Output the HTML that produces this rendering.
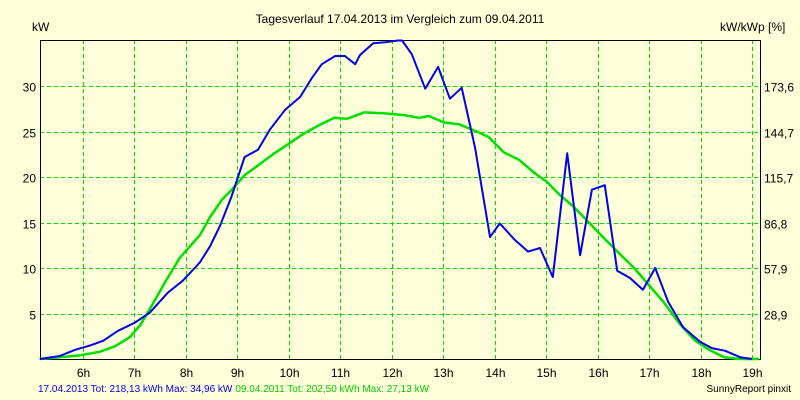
<!DOCTYPE html>
<html><head><meta charset="utf-8"><style>
body{margin:0;background:#ffffd9;}
svg{display:block;font-family:"Liberation Sans",sans-serif;}
</style></head><body>
<svg width="800" height="400">
<rect width="800" height="400" fill="#ffffd9"/>
<g id="grid"></g><g id="axes"></g><g id="series"></g>
<text x="400" y="23" text-anchor="middle" font-size="12">Tagesverlauf 17.04.2013 im Vergleich zum 09.04.2011</text>
<text x="32" y="31" font-size="12">kW</text>
<text x="720" y="31" font-size="12">kW/kWp [%]</text>
<text x="38" y="392" font-size="10"><tspan fill="#0000ff">17.04.2013 Tot: 218,13 kWh Max: 34,96 kW</tspan><tspan fill="#00cc00" dx="3">09.04.2011 Tot: 202,50 kWh Max: 27,13 kW</tspan></text>
<text x="791" y="392" text-anchor="end" font-size="10">SunnyReport pinxit</text>
</svg>
<script>
const hourTicks=[6,7,8,9,10,11,12,13,14,15,16,17,18,19];
const kwTicks=[5,10,15,20,25,30];
const pctLabels=["28,9","57,9","86,8","115,7","144,7","173,6"];
const blueT=[5.16,5.55,5.84,6.14,6.39,6.68,7.01,7.30,7.65,7.94,8.27,8.47,8.66,8.89,9.14,9.40,9.63,9.93,10.22,10.45,10.64,10.90,11.09,11.29,11.38,11.64,11.87,12.12,12.20,12.39,12.65,12.90,13.13,13.36,13.62,13.91,14.10,14.39,14.65,14.88,15.13,15.41,15.66,15.89,16.14,16.38,16.63,16.88,17.12,17.37,17.66,17.99,18.22,18.48,18.77,19.0];
const blueV=[0,0.33,1.0,1.5,2.0,3.1,4.0,5.1,7.3,8.6,10.6,12.4,14.6,17.9,22.2,23.0,25.2,27.4,28.8,30.9,32.4,33.3,33.3,32.4,33.4,34.7,34.8,35.0,35.0,33.5,29.7,32.1,28.6,29.8,23.2,13.4,14.9,13.1,11.8,12.2,9.0,22.6,11.4,18.6,19.1,9.7,8.9,7.6,10.0,6.3,3.5,1.9,1.2,0.9,0.2,0];
const greenT=[5.16,5.55,5.94,6.33,6.62,6.91,7.11,7.34,7.59,7.88,8.27,8.47,8.70,8.89,9.14,9.43,9.72,10.01,10.30,10.59,10.88,11.13,11.46,11.85,12.24,12.53,12.72,13.01,13.30,13.65,13.88,14.18,14.47,14.76,15.01,15.25,15.54,15.83,16.12,16.42,16.71,17.00,17.29,17.59,17.88,18.17,18.46,18.75,19.14];
const greenV=[0,0.2,0.4,0.8,1.4,2.4,3.7,5.9,8.4,11.1,13.6,15.6,17.5,18.6,20.2,21.4,22.6,23.7,24.8,25.7,26.5,26.4,27.1,27.0,26.8,26.5,26.7,26.0,25.8,25.0,24.4,22.7,21.9,20.5,19.5,18.1,16.7,15.0,13.3,11.6,10.0,8.1,6.2,3.9,2.1,1.0,0.2,0,0];
const L=40,R=760,T=40,B=359;
const xs=t=>83+(t-6)*51.46;
const ys=v=>B-v*9.1;
const NS="http://www.w3.org/2000/svg";
function mk(tag,attrs,parent){const e=document.createElementNS(NS,tag);for(const k in attrs)e.setAttribute(k,attrs[k]);parent.appendChild(e);return e;}
const grid=document.getElementById('grid'),axes=document.getElementById('axes'),series=document.getElementById('series');
hourTicks.forEach(h=>{
  const x=Math.round(xs(h))+0.5;
  const l=mk('line',{x1:x,x2:x,y1:T,y2:B,stroke:'#00dd00','stroke-dasharray':'4,3'},grid);
  
  
  const t=mk('text',{x:x,y:377,'text-anchor':'middle','font-size':12},axes);
  t.textContent=h+'h';
  
  
});
kwTicks.forEach((v,i)=>{
  const y=Math.round(ys(v))+0.5;
  const l=mk('line',{x1:L,x2:R,y1:y,y2:y,stroke:'#00dd00','stroke-dasharray':'4,3'},grid);
  
  
  const t=mk('text',{x:36,y:y+5,'text-anchor':'end','font-size':12},axes);
  t.textContent=v;
  
  
  const t2=mk('text',{x:764,y:y+5,'font-size':12},axes);
  t2.textContent=pctLabels[i];
  
  
});
const fr=mk('path',{d:`M${L+0.5},${B+0.5}V${T+0.5}H${R+0.5}V${B+0.5}Z`,fill:'none',stroke:'#000'},axes);


const g=mk('polyline',{points:greenT.map((t,i)=>xs(t).toFixed(1)+','+ys(greenV[i]).toFixed(1)).join(' '),fill:'none',stroke:'#00e000','stroke-width':2.5,'stroke-linejoin':'round'},series);


const b=mk('polyline',{points:blueT.map((t,i)=>xs(t).toFixed(1)+','+ys(blueV[i]).toFixed(1)).join(' '),fill:'none',stroke:'#0000ee','stroke-width':2,'stroke-linejoin':'round'},series);


</script>
</body></html>
